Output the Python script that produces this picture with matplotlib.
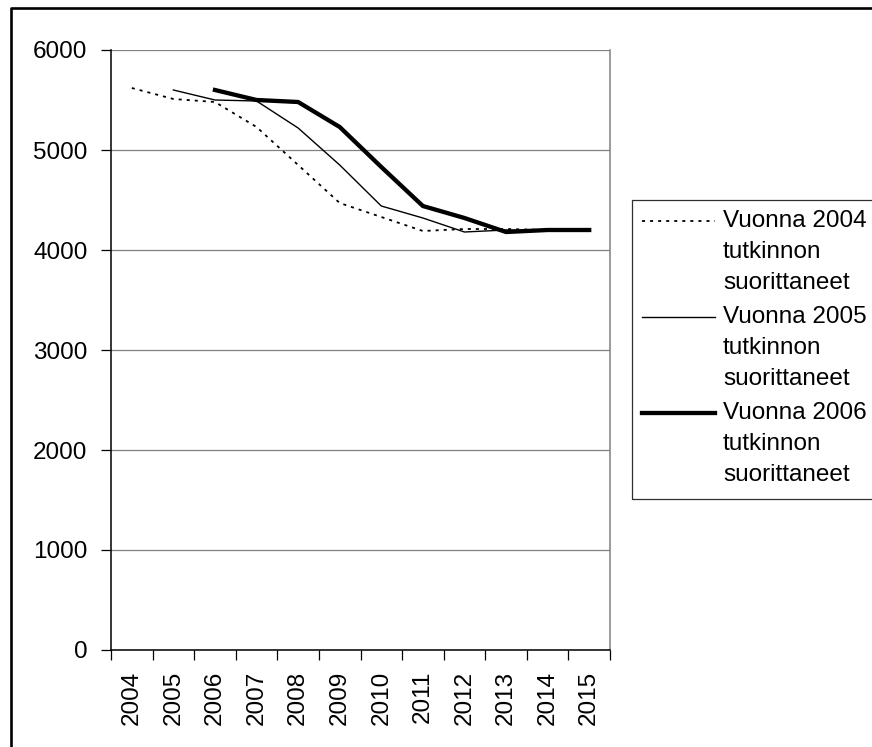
import numpy as np
import matplotlib
matplotlib.use("Agg")
import matplotlib.pyplot as plt
from matplotlib.lines import Line2D
from matplotlib.patches import Rectangle

plt.rcParams['font.family'] = ['Liberation Sans', 'DejaVu Sans']
plt.rcParams['lines.scale_dashes'] = False

years = [str(y) for y in range(2004, 2016)]
nan = np.nan
grad_2004 = [5620, 5510, 5480, 5230, 4850, 4470, 4330, 4190, 4210, 4210, 4200, 4200]
grad_2005 = [nan, 5600, 5500, 5490, 5220, 4850, 4440, 4320, 4180, 4200, 4200, 4200]
grad_2006 = [nan, nan, 5600, 5500, 5480, 5230, 4830, 4440, 4320, 4180, 4200, 4200]
labels = ["Vuonna 2004\ntutkinnon\nsuorittaneet",
          "Vuonna 2005\ntutkinnon\nsuorittaneet",
          "Vuonna 2006\ntutkinnon\nsuorittaneet"]

W, H = 872, 747
FS = 17.5
fig = plt.figure(figsize=(W / 100, H / 100), dpi=100)


def fpos(x, y):
    # pixel position (from top-left) -> figure fraction
    return x / W, 1 - y / H


ax = fig.add_axes([111 / W, 1 - 650 / H, 499 / W, 600 / H])

styles = [dict(lw=1.3, dashes=(2.2, 3.6)),
          dict(lw=1.0),
          dict(lw=3.1)]
xs = np.arange(len(years))
for vals, st in zip([grad_2004, grad_2005, grad_2006], styles):
    ax.plot(xs, vals, color='black', solid_joinstyle='miter', **st)

ax.set_xlim(-0.5, len(years) - 0.5)
ax.set_ylim(0, 6000)
ax.set_yticks(range(0, 6001, 1000))
ax.yaxis.grid(True, color='#808080', lw=0.9)
ax.set_axisbelow(True)

# tick marks between categories, labels centred on categories
ax.set_xticks(np.arange(-0.5, len(years), 1))
ax.set_xticklabels([])
ax.set_xticks(xs, minor=True)
ax.set_xticklabels(years, minor=True, rotation=90, fontsize=FS)
ax.tick_params(axis='x', which='major', length=7, width=0.9, direction='out')
ax.tick_params(axis='x', which='minor', length=0, pad=15)
ax.tick_params(axis='y', length=7, width=0.9, direction='out', pad=10, labelsize=FS)

for side in ['left', 'bottom']:
    ax.spines[side].set_color('black')
    ax.spines[side].set_linewidth(1.1)
ax.spines['right'].set_color('#808080')
ax.spines['right'].set_linewidth(1.1)
ax.spines['top'].set_visible(False)

# legend box with handles aligned to the first text line
x0, y0 = fpos(632, 499)
x1, y1 = fpos(873, 200)
fig.add_artist(Rectangle((x0, y0), x1 - x0, y1 - y0, transform=fig.transFigure,
                         fill=False, edgecolor='#303030', lw=0.9))
for i, (lab, st) in enumerate(zip(labels, styles)):
    top = 221 + i * 96
    ha0 = fpos(642, top)
    ha1 = fpos(715, top)
    fig.add_artist(Line2D([ha0[0], ha1[0]], [ha0[1], ha1[1]],
                          transform=fig.transFigure, color='black', **st))
    for k, line in enumerate(lab.split('\n')):
        tx, ty = fpos(723, top + k * 31)
        fig.text(tx, ty, line, fontsize=FS, va='center', ha='left')

# outer chart frame
fx, fy = fpos(11, 8)
fig.add_artist(Line2D([fx, fx, 1.01], [-0.01, fy, fy], transform=fig.transFigure,
                      color='black', lw=1.9))

fig.savefig('out.png', dpi=100)
